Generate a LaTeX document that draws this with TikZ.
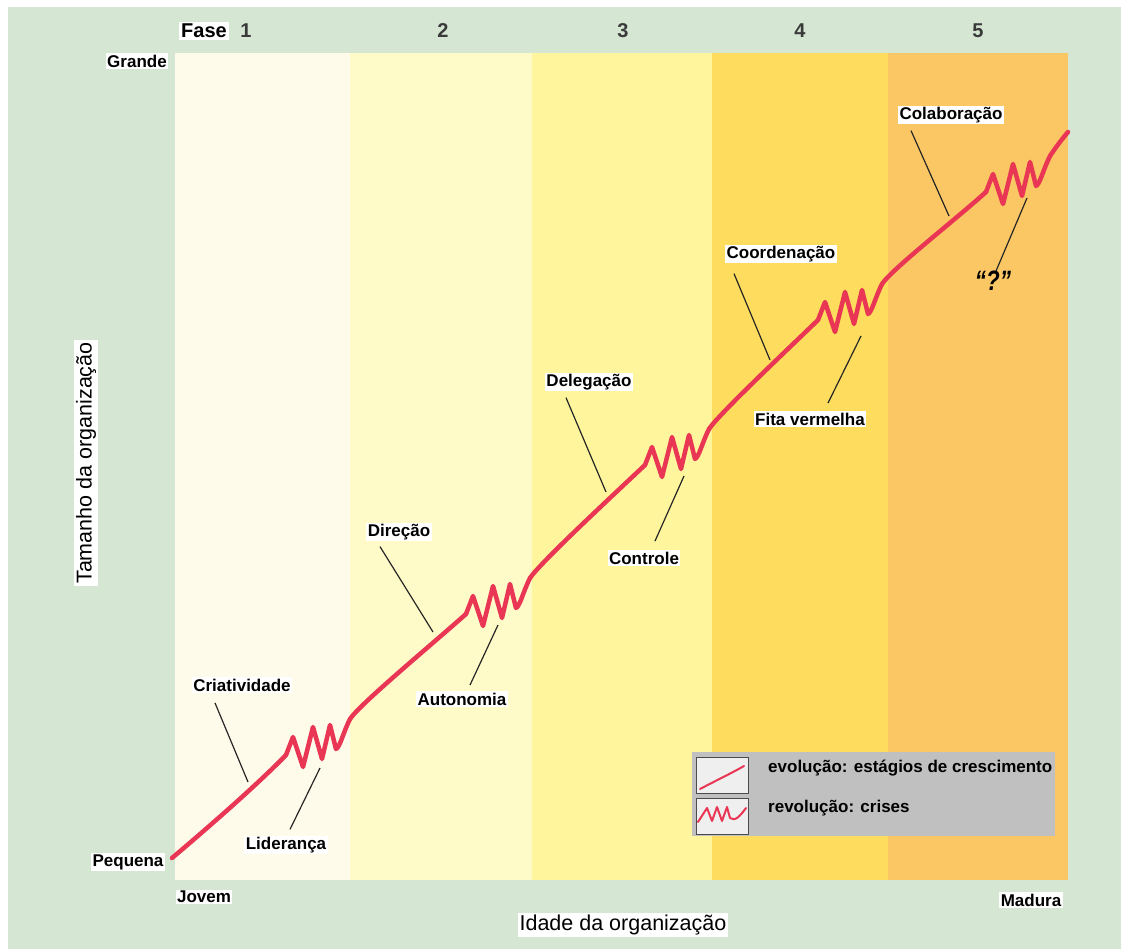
\documentclass[tikz,border=0pt]{standalone}
\usepackage{fontspec}
\setmainfont{Liberation Sans}
\usetikzlibrary{calc}

\definecolor{paper}{HTML}{D5E6D3}
\definecolor{bandA}{HTML}{FFFBEA}
\definecolor{bandB}{HTML}{FFFBC9}
\definecolor{bandC}{HTML}{FFF59C}
\definecolor{bandD}{HTML}{FDDC5E}
\definecolor{bandE}{HTML}{FBC764}
\definecolor{growth}{RGB}{232,54,84}
\definecolor{legendgray}{HTML}{C0C0C0}
\definecolor{iconfill}{HTML}{EFEFEF}
\definecolor{phasenum}{HTML}{3A3A3A}

\tikzset{
  lab/.style={fill=white, inner sep=1.5pt, text=black,
              font=\bfseries\fontsize{17}{17}\selectfont},
  axistitle/.style={fill=white, inner sep=2pt, text=black,
              font=\fontsize{21.5}{21.5}\selectfont},
  phasenr/.style={inner sep=0pt, text=phasenum,
              font=\bfseries\fontsize{20}{20}\selectfont},
  legtext/.style={inner sep=0pt, anchor=west, text=black,
              font=\bfseries\fontsize{17}{17}\selectfont},
  leader/.style={draw=black!85, line width=1.2pt},
  evo/.style={draw=growth, line width=4.5pt, line cap=round, line join=round},
  crisis/.style={draw=growth, line width=4.5pt, line cap=round, line join=round},
  icon/.style={draw=black!70, fill=iconfill, line width=1pt,
              minimum width=52pt, minimum height=36pt, inner sep=0pt, anchor=north west},
}

\begin{document}
\begin{tikzpicture}[x=1pt, y=-1pt]
\useasboundingbox (0,0) rectangle (1121,949);

% paper and frame
\fill[white] (0,0) rectangle (1121,949);
\fill[paper] (8,7) rectangle (1121,949);

% five growth phases
\fill[bandA] (175,53) rectangle (350,880);
\fill[bandB] (350,53) rectangle (532,880);
\fill[bandC] (532,53) rectangle (712,880);
\fill[bandD] (712,53) rectangle (888,880);
\fill[bandE] (888,53) rectangle (1068,880);

% phase header
\node[lab, font=\bfseries\fontsize{20}{20}\selectfont, inner sep=2pt] (fase) at (204,31) {Fase};
\node[phasenr] (f1) at (246,31) {1};
\node[phasenr] (f2) at (443,31) {2};
\node[phasenr] (f3) at (623,31) {3};
\node[phasenr] (f4) at (800,31) {4};
\node[phasenr] (f5) at (978,31) {5};

% evolution: smooth growth stretches
\draw[evo] (172,858) .. controls (210,826) and (260,782) .. (286,755);
\draw[evo] (350,719) .. controls (360,704) and (430,646) .. (466,614);
\draw[evo] (530,578) .. controls (540,563) and (610,498) .. (645,465);
\draw[evo] (709,429) .. controls (719,414) and (785,352) .. (818,320);
\draw[evo] (882,284) .. controls (892,269) and (955,220) .. (986,192);
\draw[evo] (1050,156) .. controls (1056,147) and (1062,139) .. (1068,132);

% revolution: crises between the stretches
\foreach \ex/\ey in {286/755, 466/614, 645/465, 818/320, 986/192}{
  \draw[crisis, shift={(\ex,\ey)}] (0,0) -- (7,-18) -- (17,12) -- (27,-28) -- (36,4)
     -- (44,-30) -- (50,-6) .. controls (54,-8) and (57,-22) .. (64,-36);
}

% points on the curve where the leaders end
\coordinate (e1) at (248,782);
\coordinate (e2) at (320,768);
\coordinate (e3) at (433,632);
\coordinate (e4) at (498,625);
\coordinate (e5) at (606,492);
\coordinate (e6) at (684,476);
\coordinate (e7) at (770,360);
\coordinate (e8) at (861,336);
\coordinate (e9) at (949,216);
\coordinate (e10) at (1027,198);

% stage and crisis labels
\node[lab] (crit) at (242,685) {Criatividade};
\node[lab] (lid)  at (286,845) {Liderança};
\node[lab] (dir)  at (399,532) {Direção};
\node[lab] (aut)  at (462,699) {Autonomia};
\node[lab] (del)  at (589,382) {Delegação};
\node[lab] (ctl)  at (644,558) {Controle};
\node[lab] (coo)  at (781,254) {Coordenação};
\node[lab] (fit)  at (810,419) {Fita vermelha};
\node[lab] (col)  at (951,115) {Colaboração};
\node[inner sep=1pt, font=\bfseries\itshape\fontsize{28}{28}\selectfont] (q) at (993,281)
     {\scalebox{0.8}[1]{“?”}};

\draw[leader] ([shift={(-27,10)}]crit.south) -- (e1);
\draw[leader] ([shift={(4,-6)}]lid.north) -- (e2);
\draw[leader] ([shift={(-19,5)}]dir.south) -- (e3);
\draw[leader] ([shift={(8,-6)}]aut.north) -- (e4);
\draw[leader] ([shift={(-23,6)}]del.south) -- (e5);
\draw[leader] ([shift={(11,-9)}]ctl.north) -- (e6);
\draw[leader] ([shift={(-47,10)}]coo.south) -- (e7);
\draw[leader] ([shift={(18,-8)}]fit.north) -- (e8);
\draw[leader] ([shift={(-40,6)}]col.south) -- (e9);
\draw[leader] ([shift={(3,1)}]q.north) -- (e10);

% axes
\node[lab] (grande)  at (137,61)  {Grande};
\node[lab] (pequena) at (128,862) {Pequena};
\node[lab] (jovem)   at (204,897) {Jovem};
\node[lab] (madura)  at (1031,900) {Madura};
\node[axistitle] (idade) at (623,925) {Idade da organização};
\node[axistitle, rotate=90] (tamanho) at (86,463) {Tamanho da organização};

% legend
\fill[legendgray] (692,752) rectangle (1055,836);
\node[icon] (ic1) at (696,757) {};
\node[icon] (ic2) at (696,798) {};
\draw[growth, line width=2pt, line cap=round]
  (700,789) .. controls (715,781) and (730,774) .. (744,766);
\draw[growth, line width=2pt, line cap=round, line join=round]
  (698,822) -- (707,808) -- (712,821) -- (717,807) -- (722,821) -- (727,807) -- (730,818)
  .. controls (735,822) and (740,816) .. (746,808);
\node[legtext] (l1) at (768,768) {evolução: estágios de crescimento};
\node[legtext] (l2) at (768,808) {revolução: crises};

\end{tikzpicture}
\end{document}
